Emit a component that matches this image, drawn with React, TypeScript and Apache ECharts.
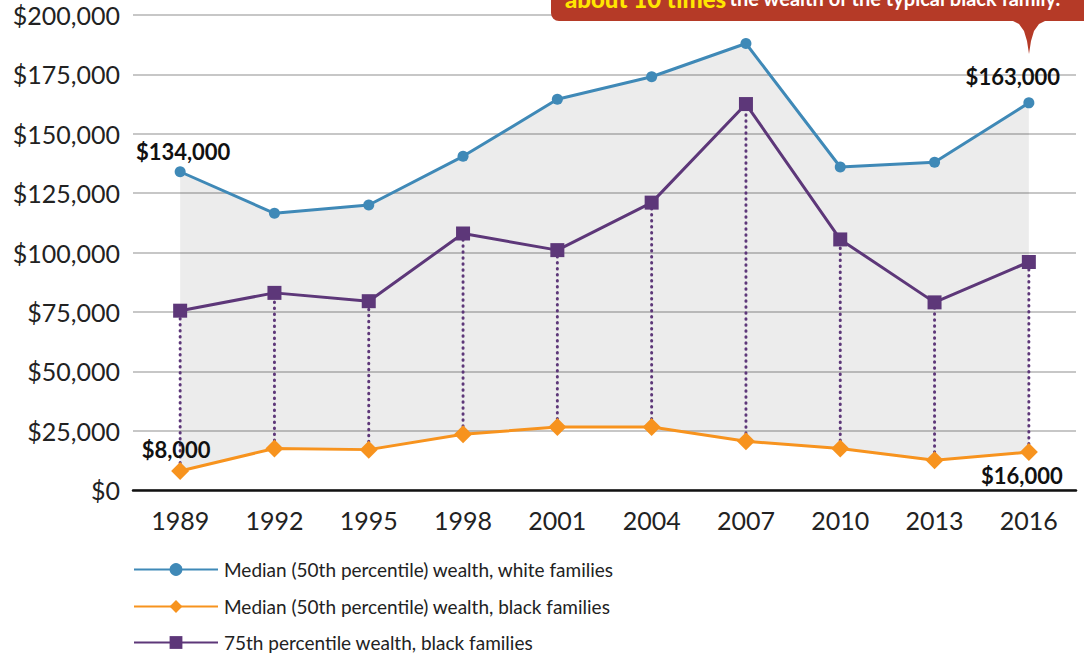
import React, { useEffect, useRef } from "react";
import * as echarts from "echarts";

const years = ["1989", "1992", "1995", "1998", "2001", "2004", "2007", "2010", "2013", "2016"];
const whiteMedian = [134000, 116500, 120000, 140500, 164500, 174000, 188000, 136000, 138000, 163000];
const blackMedian = [8000, 17500, 17000, 23500, 26500, 26500, 20500, 17500, 12500, 16000];
const black75 = [75500, 83000, 79500, 108000, 101000, 121000, 162500, 105500, 79000, 96000];
const yTicks = { min: 0, max: 200000, interval: 25000 };
const seriesNames = [
  "Median (50th percentile) wealth, white families",
  "Median (50th percentile) wealth, black families",
  "75th percentile wealth, black families",
];
const calloutStrong = "about 10 times";
const calloutRest = "the wealth of the typical black family.";

const BLUE = "#3f89b7";
const ORANGE = "#f7931e";
const PURPLE = "#5d3779";
const FONT = "Lato, 'Open Sans', sans-serif";

const money = (v: number) => "$" + Math.round(v).toLocaleString("en-US");

export default function App() {
  const ref = useRef<HTMLDivElement>(null);
  useEffect(() => {
    if (!ref.current) return;
    const chart = echarts.init(ref.current, undefined, { renderer: "svg" });
    const last = years.length - 1;
    const labelStyle = { fontFamily: FONT, fontWeight: "bold" as const, fontSize: 22, color: "#111" };
    const legendTops = [560, 597, 633];
    chart.setOption({
      animation: false,
      textStyle: { fontFamily: FONT },
      grid: { left: 133, right: 8, top: 15, bottom: 164 },
      legend: seriesNames.map((name, i) => ({
        data: [name],
        orient: "horizontal",
        left: 133,
        top: legendTops[i],
        padding: 0,
        itemWidth: 84,
        itemHeight: 16,
        textStyle: { fontFamily: FONT, fontSize: 19, color: "#222", padding: [0, 0, 0, 1] },
      })),
      xAxis: {
        type: "category",
        data: years,
        boundaryGap: true,
        axisTick: { show: false },
        axisLine: { lineStyle: { color: "#111", width: 2.5 } },
        axisLabel: { fontFamily: FONT, fontSize: 25, color: "#222", margin: 17 },
        splitLine: { show: false },
      },
      yAxis: {
        type: "value",
        min: yTicks.min,
        max: yTicks.max,
        interval: yTicks.interval,
        axisLine: { show: false },
        axisTick: { show: false },
        axisLabel: { fontFamily: FONT, fontSize: 25, color: "#222", margin: 13, formatter: (v: number) => money(v) },
        splitLine: { lineStyle: { color: "#b5b5b5", width: 1.5 } },
      },
      series: [
        {
          name: "bandBase",
          type: "line",
          stack: "band",
          data: blackMedian,
          symbol: "none",
          lineStyle: { opacity: 0 },
          silent: true,
          z: 1,
        },
        {
          name: "bandFill",
          type: "line",
          stack: "band",
          data: whiteMedian.map((v, i) => v - blackMedian[i]),
          symbol: "none",
          lineStyle: { opacity: 0 },
          areaStyle: { color: "rgba(0,0,0,0.105)" },
          silent: true,
          z: 1,
        },
        {
          name: "dots",
          type: "custom",
          data: years.map((_, i) => [i, blackMedian[i], black75[i]]),
          encode: { x: 0, y: [1, 2] },
          renderItem: (params: any, api: any) => {
            const i = api.value(0);
            const p1 = api.coord([i, api.value(1)]);
            const p2 = api.coord([i, api.value(2)]);
            return {
              type: "line",
              shape: { x1: p1[0], y1: p1[1] - 8, x2: p2[0], y2: p2[1] },
              style: { stroke: PURPLE, lineWidth: 3, lineDash: [0.5, 5.5], lineCap: "round" },
            };
          },
          silent: true,
          z: 3,
        },
        {
          name: seriesNames[0],
          type: "line",
          data: whiteMedian.map((v, i) => ({
            value: v,
            label:
              i === 0
                ? { show: true, position: "top", distance: 4, offset: [3, 0], ...labelStyle }
                : i === last
                ? { show: true, position: "top", distance: 6, offset: [-16, -4], ...labelStyle }
                : { show: false },
          })),
          symbol: "circle",
          symbolSize: 11,
          color: BLUE,
          lineStyle: { color: BLUE, width: 3 },
          label: { formatter: (p: any) => money(p.value) },
          z: 5,
        },
        {
          name: seriesNames[1],
          type: "line",
          data: blackMedian.map((v, i) => ({
            value: v,
            label:
              i === 0
                ? { show: true, position: "top", distance: 2, offset: [-4, 0], ...labelStyle }
                : i === last
                ? { show: true, position: "bottom", distance: 3, offset: [-7, 0], ...labelStyle }
                : { show: false },
          })),
          symbol: "diamond",
          symbolSize: 18,
          color: ORANGE,
          lineStyle: { color: ORANGE, width: 3 },
          label: { formatter: (p: any) => money(p.value) },
          z: 5,
        },
        {
          name: seriesNames[2],
          type: "line",
          data: black75,
          symbol: "rect",
          symbolSize: 14,
          color: PURPLE,
          lineStyle: { color: PURPLE, width: 3 },
          z: 5,
        },
      ],
      graphic: [
        {
          type: "rect",
          shape: { x: 551, y: -30, width: 560, height: 51, r: 8 },
          style: { fill: "#b53a27" },
          z: 100,
        },
        {
          type: "polygon",
          shape: {
            points: [
              [1011, 20], [1019, 24], [1024, 31], [1027, 41], [1029, 54],
              [1031, 41], [1034, 31], [1039, 24], [1047, 20],
            ],
          },
          style: { fill: "#b53a27" },
          z: 100,
        },
        {
          type: "text",
          x: 565,
          y: -2,
          z: 101,
          style: {
            text: "{a|" + calloutStrong + "} {b|" + calloutRest + "}",
            verticalAlign: "middle",
            rich: {
              a: { fontFamily: FONT, fontWeight: 900, fontSize: 24, fill: "#ffe600" },
              b: { fontFamily: FONT, fontWeight: "bold", fontSize: 20, fill: "#ffffff" },
            },
          },
        },
      ],
    });
    return () => chart.dispose();
  }, []);
  return <div ref={ref} style={{ width: 1084, height: 654, position: "absolute", left: 0, top: 0 }} />;
}
